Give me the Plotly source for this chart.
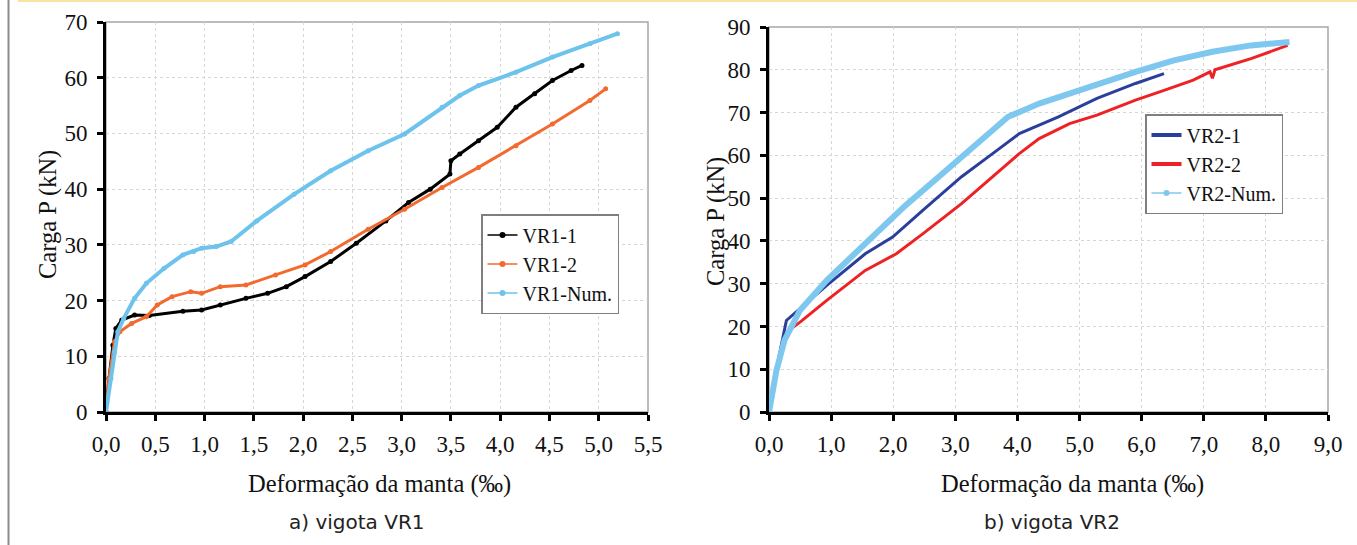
import plotly.graph_objects as go

# ---------------- data: left chart (VR1) ----------------
vr1_1_x = [0, 0.03, 0.07, 0.10, 0.16, 0.29, 0.44, 0.78, 0.97, 1.16, 1.42, 1.64, 1.83, 2.02, 2.28, 2.54,
           2.84, 3.07, 3.29, 3.49, 3.50, 3.59, 3.78, 3.97, 4.16, 4.35, 4.53, 4.72, 4.83]
vr1_1_y = [0, 6.0, 12.0, 15.0, 16.5, 17.4, 17.3, 18.1, 18.3, 19.2, 20.4, 21.3, 22.5, 24.3, 27.0, 30.3,
           34.3, 37.6, 40.0, 42.7, 45.1, 46.3, 48.7, 51.1, 54.7, 57.1, 59.5, 61.3, 62.2]

vr1_2_x = [0, 0.03, 0.086, 0.14, 0.26, 0.41, 0.52, 0.67, 0.86, 0.97, 1.16, 1.42, 1.72, 2.02, 2.28, 2.66,
           3.03, 3.41, 3.78, 4.16, 4.53, 4.91, 5.07]
vr1_2_y = [0, 6.0, 12.6, 14.4, 15.9, 17.1, 19.2, 20.7, 21.6, 21.3, 22.5, 22.8, 24.6, 26.4, 28.8, 32.8,
           36.4, 40.3, 43.9, 47.8, 51.7, 55.9, 58.0]

vr1_num_x = [0, 0.05, 0.086, 0.12, 0.18, 0.29, 0.41, 0.59, 0.78, 0.89, 0.97, 1.12, 1.27, 1.53, 1.91, 2.28,
             2.66, 3.03, 3.41, 3.59, 3.78, 4.16, 4.53, 4.91, 5.19]
vr1_num_y = [0, 6.0, 10.8, 14.4, 16.8, 20.4, 23.1, 25.8, 28.2, 28.8, 29.4, 29.7, 30.6, 34.3, 39.1, 43.3,
             46.9, 49.9, 54.7, 56.8, 58.6, 61.0, 63.7, 66.1, 67.9]

# ---------------- data: right chart (VR2) ----------------
vr2_1_x = [0, 0.16, 0.28, 0.56, 0.93, 1.55, 1.99, 2.48, 3.10, 3.60, 4.03, 4.66, 5.28, 5.90, 6.36]
vr2_1_y = [0, 12.9, 21.4, 24.9, 29.6, 37.0, 40.9, 47.2, 55.0, 60.4, 65.1, 69.0, 73.3, 76.8, 79.1]

vr2_2_x = [0, 0.16, 0.31, 0.50, 0.93, 1.55, 2.05, 2.48, 3.10, 3.72, 4.03, 4.35, 4.84, 5.28, 5.90, 6.36,
           6.83, 7.10, 7.14, 7.18, 7.76, 8.35]
vr2_2_y = [0, 12.0, 19.0, 21.0, 26.1, 33.1, 37.0, 41.7, 48.7, 56.5, 60.4, 63.9, 67.4, 69.4, 72.9, 75.2,
           77.6, 79.5, 78.0, 80.0, 82.6, 85.7]

vr2_num_x = [0, 0.12, 0.25, 0.50, 0.93, 1.55, 2.17, 2.79, 3.41, 3.85, 4.35, 4.97, 5.90, 6.52, 7.14, 7.76, 8.38]
vr2_num_y = [0, 9.7, 16.8, 23.8, 30.8, 39.4, 47.9, 55.7, 63.5, 69.0, 72.1, 75.2, 79.5, 82.2, 84.2, 85.7, 86.5]

# ---------------- tick labels ----------------
x1_tickvals = [0, 0.5, 1.0, 1.5, 2.0, 2.5, 3.0, 3.5, 4.0, 4.5, 5.0, 5.5]
x1_ticktext = ["0,0", "0,5", "1,0", "1,5", "2,0", "2,5", "3,0", "3,5", "4,0", "4,5", "5,0", "5,5"]
x2_tickvals = [0, 1, 2, 3, 4, 5, 6, 7, 8, 9]
x2_ticktext = ["0,0", "1,0", "2,0", "3,0", "4,0", "5,0", "6,0", "7,0", "8,0", "9,0"]

W, H = 1357, 545
SERIF = "Liberation Serif"
TICKFONT = dict(family=SERIF, size=23, color="#111")

fig = go.Figure()


def add(x, y, name, color, xa, ya, legend, mode, lw, ms, leg_lw, leg_mode):
    # curve drawn from the data
    fig.add_trace(go.Scatter(
        x=x, y=y, name=name, mode=mode, xaxis=xa, yaxis=ya, showlegend=False,
        line=dict(color=color, width=lw), marker=dict(color=color, size=ms),
    ))
    # legend key (Excel-style thin sample)
    fig.add_trace(go.Scatter(
        x=[None], y=[None], name=name, mode=leg_mode, xaxis=xa, yaxis=ya, legend=legend,
        line=dict(color=color, width=leg_lw), marker=dict(color=color, size=6),
    ))


add(vr1_1_x, vr1_1_y, "VR1-1", "#000000", "x", "y", "legend", "lines+markers", 3, 5, 1.5, "lines+markers")
add(vr1_2_x, vr1_2_y, "VR1-2", "#F26A2E", "x", "y", "legend", "lines+markers", 3, 5, 1.5, "lines+markers")
add(vr1_num_x, vr1_num_y, "VR1-Num.", "#6EC3EC", "x", "y", "legend", "lines+markers", 4, 5, 1.5, "lines+markers")

add(vr2_1_x, vr2_1_y, "VR2-1", "#2A3F9C", "x2", "y2", "legend2", "lines", 3, 4, 4, "lines")
add(vr2_2_x, vr2_2_y, "VR2-2", "#EE2224", "x2", "y2", "legend2", "lines", 3, 4, 4, "lines")
add(vr2_num_x, vr2_num_y, "VR2-Num.", "#7EC8EF", "x2", "y2", "legend2", "lines", 6, 4, 1.5, "lines+markers")


def px_x(p):
    return p / W


def px_y(p):
    return 1 - p / H


axis_common = dict(
    showline=True, linecolor="black", linewidth=3,
    ticks="outside", ticklen=6, tickwidth=3, tickcolor="black",
    showgrid=True, gridcolor="#D6D6D6", gridwidth=1, griddash="dot",
    zeroline=False, automargin=False,
)

fig.update_layout(
    width=W, height=H,
    margin=dict(l=0, r=0, t=0, b=0, pad=0, autoexpand=False),
    paper_bgcolor="white", plot_bgcolor="white",
    font=dict(family=SERIF, size=20, color="#111"),
    xaxis=dict(domain=[px_x(106), px_x(648)], range=[0, 5.5], anchor="y",
               tickvals=x1_tickvals, ticktext=x1_ticktext, ticklabelstandoff=3, **axis_common),
    yaxis=dict(domain=[px_y(412), px_y(22)], range=[0, 70], anchor="x", dtick=10,
               ticklabelstandoff=5, **axis_common),
    xaxis2=dict(domain=[px_x(769), px_x(1328)], range=[0, 9], anchor="y2",
                tickvals=x2_tickvals, ticktext=x2_ticktext, ticklabelstandoff=3, **axis_common),
    yaxis2=dict(domain=[px_y(412), px_y(27)], range=[0, 90], anchor="x2", dtick=10,
                ticklabelstandoff=5, **axis_common),
    legend=dict(x=px_x(481), y=px_y(214), xanchor="left", yanchor="top",
                bgcolor="white", bordercolor="#7F7F7F", borderwidth=1.5,
                font=dict(family=SERIF, size=20, color="#111")),
    legend2=dict(x=px_x(1145), y=px_y(114), xanchor="left", yanchor="top",
                 bgcolor="white", bordercolor="#7F7F7F", borderwidth=1.5,
                 font=dict(family=SERIF, size=20, color="#111")),
    showlegend=True,
)
fig.update_xaxes(tickfont=TICKFONT)
fig.update_yaxes(tickfont=TICKFONT)

shapes = [
    dict(type="rect", xref="x domain", yref="y domain", x0=0, x1=1, y0=0, y1=1,
         line=dict(color="#A6A6A6", width=1.5), layer="below"),
    dict(type="rect", xref="x2 domain", yref="y2 domain", x0=0, x1=1, y0=0, y1=1,
         line=dict(color="#A6A6A6", width=1.5), layer="below"),
    # page decoration: top yellow rule and left gray rule
    dict(type="line", xref="paper", yref="paper", x0=px_x(18), x1=1, y0=px_y(1), y1=px_y(1),
         line=dict(color="#F7E4A2", width=2)),
    dict(type="line", xref="paper", yref="paper", x0=px_x(8.5), x1=px_x(8.5), y0=0, y1=1,
         line=dict(color="#8C8C8C", width=2)),
]
fig.update_layout(shapes=shapes)

ann = [
    dict(text="Carga P (kN)", x=px_x(48), y=px_y(215), textangle=-90),
    dict(text="Carga P (kN)", x=px_x(716), y=px_y(222), textangle=-90),
    dict(text="Deformação da manta (‰)", x=px_x(379), y=px_y(484)),
    dict(text="Deformação da manta (‰)", x=px_x(1072), y=px_y(484)),
]
annotations = []
for a in ann:
    annotations.append(dict(xref="paper", yref="paper", xanchor="center", yanchor="middle",
                            showarrow=False, font=dict(family=SERIF, size=24.5, color="#111"), **a))
for txt, cx in [("a) vigota VR1", 357), ("b) vigota VR2", 1052)]:
    annotations.append(dict(text=txt, xref="paper", yref="paper", x=px_x(cx), y=px_y(522),
                            xanchor="center", yanchor="middle", showarrow=False,
                            font=dict(family="DejaVu Sans", size=20, color="#222")))
fig.update_layout(annotations=annotations)

fig.write_html("out.html", config={"displayModeBar": False},
               post_script="document.body.style.margin='0px';")
